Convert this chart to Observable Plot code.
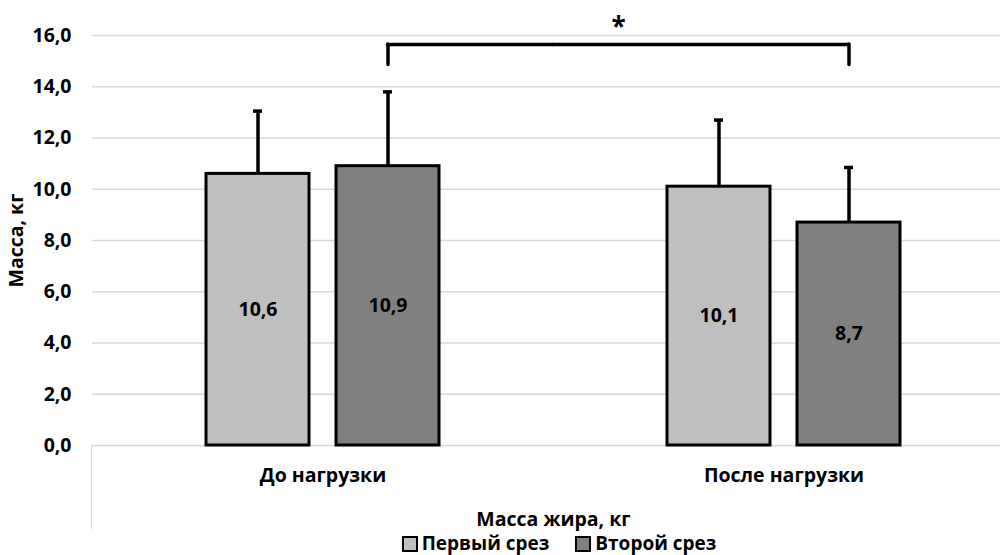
<!DOCTYPE html>
<html><head><meta charset="utf-8">
<script src="https://cdn.jsdelivr.net/npm/d3@7"></script>
<script src="https://cdn.jsdelivr.net/npm/@observablehq/plot@0.6"></script>
<style>
html,body{margin:0;padding:0;background:#fff;overflow:hidden;}
#wrap{position:relative;width:1014px;font-family:"Open Sans","Noto Sans",sans-serif;font-weight:700;color:#000;}
#legend{display:flex;justify-content:center;gap:26px;padding-left:104px;font-size:19px;line-height:23px;}
.item{display:flex;align-items:center;gap:4px;}
.sw{width:16px;height:16px;border:2.5px solid #000;box-sizing:border-box;}
#vline{position:absolute;border-left:1.5px solid #d9d9d9;}
</style></head><body>
<div id="wrap"><div id="chart"></div><div id="legend"></div><div id="vline"></div></div>
<script>
// ---- data ----
const groups = ["До нагрузки", "После нагрузки"];
const series = ["Первый срез", "Второй срез"];
const firstCut = [10.6, 10.1];
const secondCut = [10.9, 8.7];
const firstErr = [2.45, 2.6];
const secondErr = [2.9, 2.15];
const yTicks = [0, 2, 4, 6, 8, 10, 12, 14, 16];
const colors = ["#bfbfbf", "#808080"];
const yLabel = "Масса, кг";
const xLabel = "Масса жира, кг";
const bracketY = 15.65, bracketEndY = 14.85, starY = 16.3, starText = "*";

const rows = [];
groups.forEach((g, i) => {
  rows.push({group: g, series: series[0], value: firstCut[i], err: firstErr[i]});
  rows.push({group: g, series: series[1], value: secondCut[i], err: secondErr[i]});
});
const fmt = v => v.toFixed(1).replace(".", ",");

const W = 1014, H = 532, ML = 92, MT = 35, MB = 87;
const FS = 19.5;

function make(k) {
  const marks = [
    Plot.gridY(yTicks, {stroke: "#d9d9d9", strokeOpacity: 1, strokeWidth: 1.5}),
    Plot.barY(rows, {fx: "group", x: "series", y: "value", fill: "series", stroke: "#000", strokeWidth: 3}),
    Plot.ruleX(rows, {fx: "group", x: "series", y1: "value", y2: d => d.value + d.err, stroke: "#000", strokeWidth: 3.5}),
    Plot.text(rows, {fx: "group", x: "series", y: d => d.value / 2, text: d => fmt(d.value), fontSize: FS, fontWeight: "bold", fill: "#000"}),
    Plot.axisY({ticks: yTicks, tickSize: 0, tickPadding: 21, tickFormat: fmt, label: yLabel, labelAnchor: "center", labelOffset: 83, labelArrow: "none", fontSize: FS}),
    Plot.axisFx({anchor: "bottom", tickSize: 0, tickPadding: 23, label: xLabel, labelAnchor: "center", labelOffset: 80, fontSize: FS})
  ];
  if (k) {
    marks.push(
      Plot.tickY(rows, {fx: "group", x: "series", y: d => d.value + d.err, stroke: "#000", strokeWidth: 3.5, insetLeft: k.capInset, insetRight: k.capInset}),
      Plot.ruleY([{group: groups[0], y: bracketY}], {fx: "group", y: "y", insetLeft: k.c - k.r0, stroke: "#000", strokeWidth: 3.5, strokeLinecap: "round"}),
      Plot.ruleY([{group: groups[1], y: bracketY}], {fx: "group", y: "y", insetRight: k.r1 - k.c, stroke: "#000", strokeWidth: 3.5, strokeLinecap: "round"}),
      Plot.ruleX(groups.map(g => ({group: g, x: series[1], y1: bracketEndY, y2: bracketY})), {fx: "group", x: "x", y1: "y1", y2: "y2", stroke: "#000", strokeWidth: 3.5, strokeLinecap: "round"}),
      Plot.text([{group: groups[0], x: series[1], y: starY}], {fx: "group", x: "x", y: "y", text: () => starText, dx: k.half, fontSize: 26, fontWeight: "bold", fill: "#000"})
    );
  }
  return Plot.plot({
    width: W, height: H,
    marginLeft: ML, marginRight: 0, marginTop: MT, marginBottom: MB,
    style: {fontFamily: '"Open Sans","Noto Sans",sans-serif', fontWeight: "bold", fontSize: FS + "px", color: "#000", background: "#fff"},
    fx: {domain: groups, padding: 0},
    x: {domain: series, paddingInner: 0.206, paddingOuter: 0.864, axis: null},
    y: {domain: [0, 16]},
    color: {domain: series, range: colors},
    marks
  });
}

const probe = make(null);
const xs = probe.scale("x");
const fxs = probe.scale("fx");
const c = xs.apply(series[1]) + xs.bandwidth / 2;
const k = {
  c, r0: xs.range[0], r1: xs.range[1],
  capInset: (xs.bandwidth - 9) / 2,
  half: (fxs.apply(groups[1]) - fxs.apply(groups[0])) / 2
};
const chart = make(k);
document.getElementById("chart").appendChild(chart);

const legend = document.getElementById("legend");
series.forEach((s, i) => {
  const it = document.createElement("div"); it.className = "item";
  const sw = document.createElement("div"); sw.className = "sw"; sw.style.background = colors[i];
  const t = document.createElement("span"); t.textContent = s;
  it.appendChild(sw); it.appendChild(t); legend.appendChild(it);
});
const vl = document.getElementById("vline");
vl.style.left = (ML - 1) + "px"; vl.style.top = (H - MB) + "px"; vl.style.height = "84px";
</script>
</body></html>
